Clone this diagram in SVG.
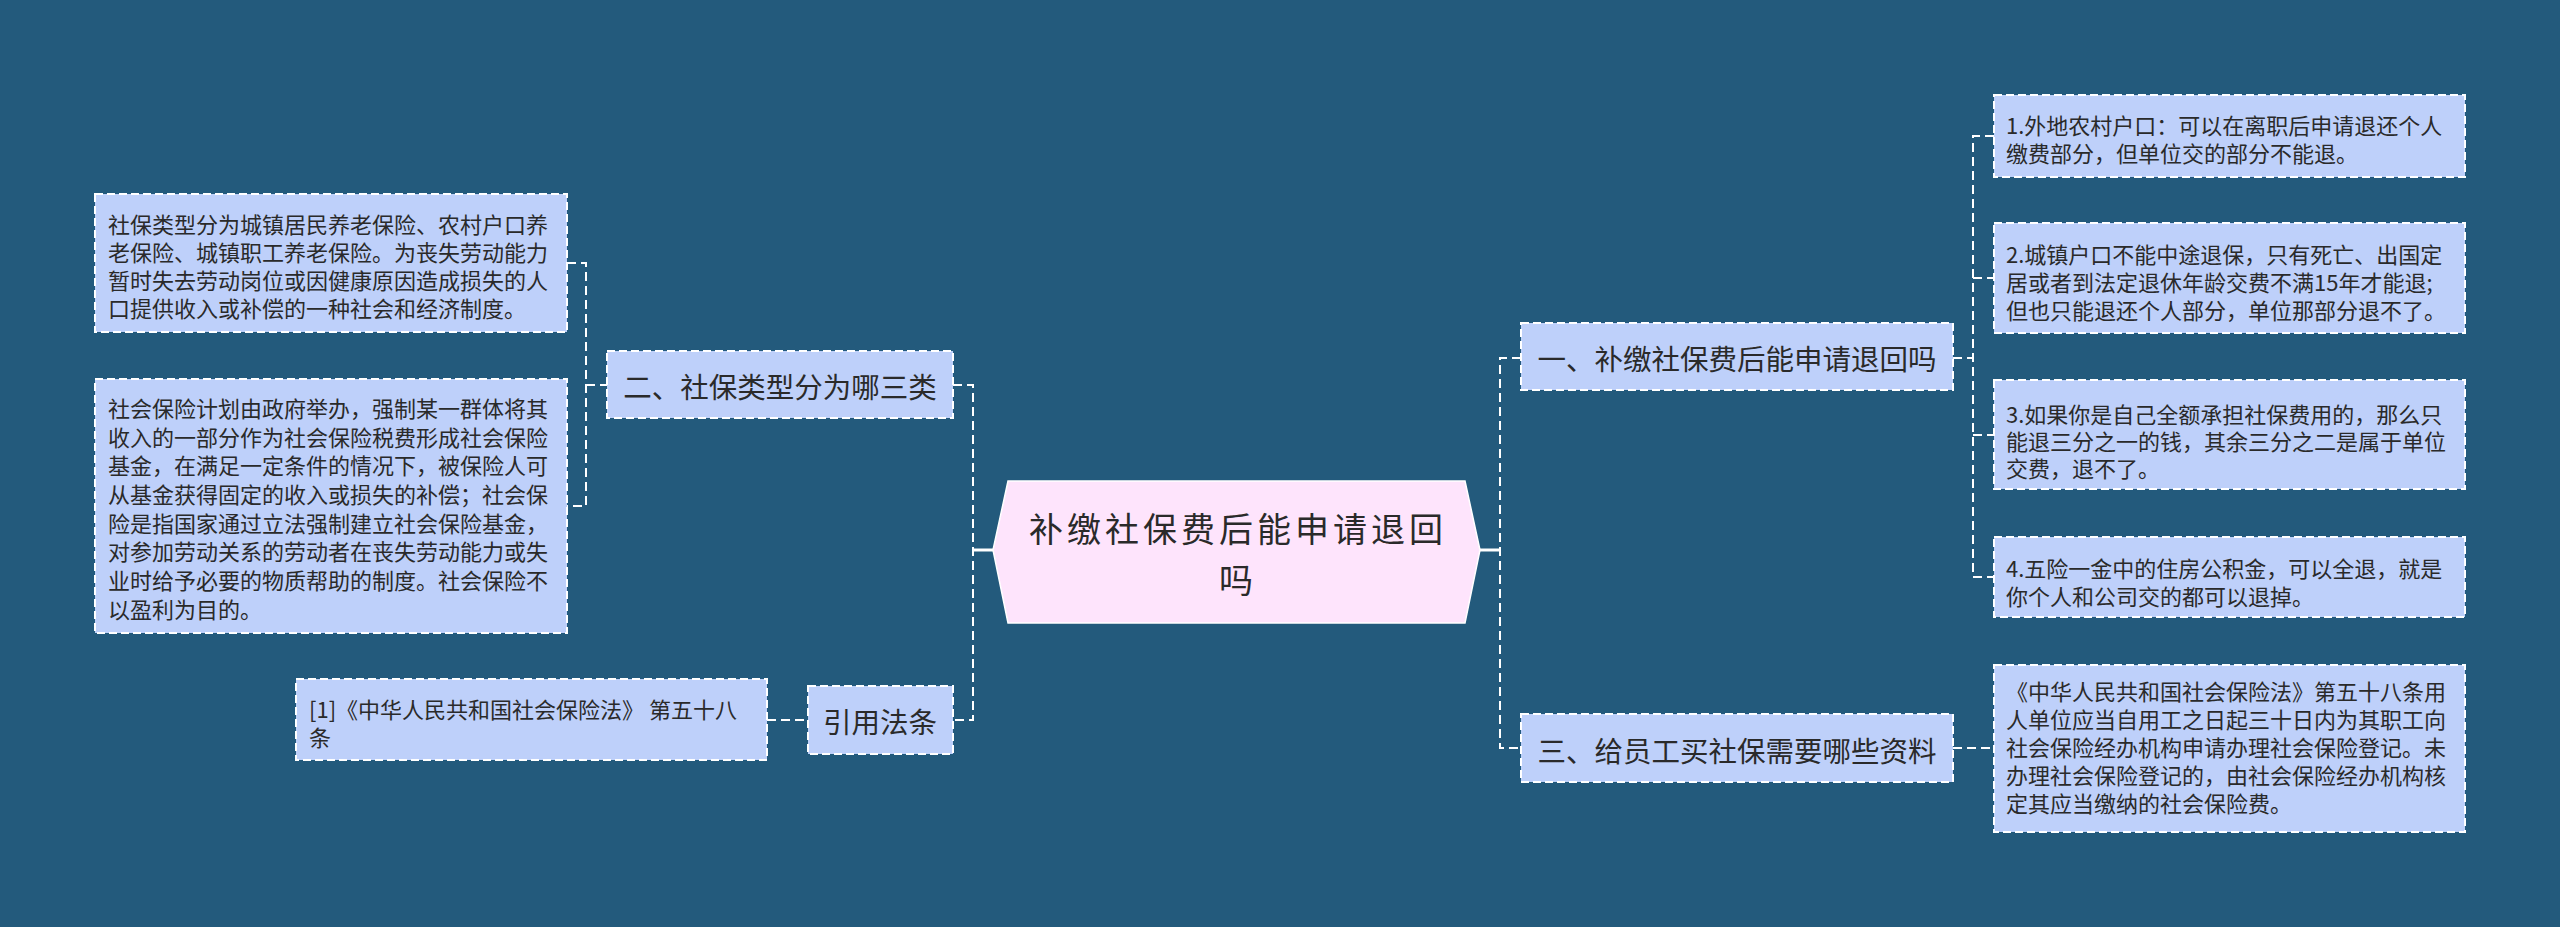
<svg xmlns="http://www.w3.org/2000/svg" width="2560" height="927" viewBox="0 0 2560 927">
<style>
.bg{fill:#235a7c}
.box{fill:#bed0fa;stroke:#ffffff;stroke-width:2;stroke-dasharray:8 4}
.root{fill:#fee4fc;stroke:#ffffff;stroke-width:1.5}
.t{font-family:"Noto Sans CJK SC","Noto Sans",sans-serif;fill:#2a2a2a;dominant-baseline:central}
.s{font-size:22px}
.m{font-size:28.5px;text-anchor:middle}
.r{font-size:34px;letter-spacing:4px;text-anchor:middle}
.dash{fill:none;stroke:#ffffff;stroke-width:2;stroke-dasharray:9 5}
.solid{fill:none;stroke:#ffffff;stroke-width:3}
</style>
<rect class="bg" x="0" y="0" width="2560" height="927"/>
<g id="connectors">
<path class="solid" d="M973,550 H993"/>
<path class="dash" d="M953,385 H973 V720 H953"/>
<path class="dash" d="M567,263 H586 V506 H567"/>
<path class="dash" d="M586,385 H607"/>
<path class="dash" d="M767,720 H808"/>
<path class="solid" d="M1480,550 H1500"/>
<path class="dash" d="M1521,358 H1500 V748 H1521"/>
<path class="dash" d="M1953,358 H1973"/>
<path class="dash" d="M1994,136 H1973 V577 H1994"/>
<path class="dash" d="M1973,278 H1994"/>
<path class="dash" d="M1973,435 H1994"/>
<path class="dash" d="M1953,748 H1994"/>
</g>
<g id="root">
<polygon class="root" points="1008,481 1465,481 1480,550 1465,623 1008,623 993,550"/>
<text class="t r" x="1238" y="527">补缴社保费后能申请退回</text>
<text class="t r" x="1238" y="578">吗</text>
</g>
<g id="n2">
<rect class="box" x="607" y="351" width="346" height="67"/>
<text class="t m" x="780" y="385">二、社保类型分为哪三类</text>
</g>
<g id="n2a">
<rect class="box" x="95" y="194" width="472" height="138"/>
<text class="t s" x="108" y="223">社保类型分为城镇居民养老保险、农村户口养</text>
<text class="t s" x="108" y="251">老保险、城镇职工养老保险。为丧失劳动能力</text>
<text class="t s" x="108" y="279">暂时失去劳动岗位或因健康原因造成损失的人</text>
<text class="t s" x="108" y="307">口提供收入或补偿的一种社会和经济制度。</text>
</g>
<g id="n2b">
<rect class="box" x="95" y="379" width="472" height="254"/>
<text class="t s" x="108" y="407">社会保险计划由政府举办，强制某一群体将其</text>
<text class="t s" x="108" y="436">收入的一部分作为社会保险税费形成社会保险</text>
<text class="t s" x="108" y="464">基金，在满足一定条件的情况下，被保险人可</text>
<text class="t s" x="108" y="493">从基金获得固定的收入或损失的补偿；社会保</text>
<text class="t s" x="108" y="522">险是指国家通过立法强制建立社会保险基金，</text>
<text class="t s" x="108" y="550">对参加劳动关系的劳动者在丧失劳动能力或失</text>
<text class="t s" x="108" y="579">业时给予必要的物质帮助的制度。社会保险不</text>
<text class="t s" x="108" y="608">以盈利为目的。</text>
</g>
<g id="n4">
<rect class="box" x="808" y="686" width="145" height="68"/>
<text class="t m" x="880" y="720">引用法条</text>
</g>
<g id="n4a">
<rect class="box" x="296" y="679" width="471" height="81"/>
<text class="t s" x="309" y="708">[1]《中华人民共和国社会保险法》 第五十八</text>
<text class="t s" x="309" y="736">条</text>
</g>
<g id="n1">
<rect class="box" x="1521" y="323" width="432" height="67"/>
<text class="t m" x="1737" y="357">一、补缴社保费后能申请退回吗</text>
</g>
<g id="n1a">
<rect class="box" x="1994" y="95" width="471" height="82"/>
<text class="t s" x="2006" y="124">1.外地农村户口：可以在离职后申请退还个人</text>
<text class="t s" x="2006" y="152">缴费部分，但单位交的部分不能退。</text>
</g>
<g id="n1b">
<rect class="box" x="1994" y="223" width="471" height="110"/>
<text class="t s" x="2006" y="253">2.城镇户口不能中途退保，只有死亡、出国定</text>
<text class="t s" x="2006" y="281">居或者到法定退休年龄交费不满15年才能退;</text>
<text class="t s" x="2006" y="309">但也只能退还个人部分，单位那部分退不了。</text>
</g>
<g id="n1c">
<rect class="box" x="1994" y="380" width="471" height="109"/>
<text class="t s" x="2006" y="413">3.如果你是自己全额承担社保费用的，那么只</text>
<text class="t s" x="2006" y="440">能退三分之一的钱，其余三分之二是属于单位</text>
<text class="t s" x="2006" y="467">交费，退不了。</text>
</g>
<g id="n1d">
<rect class="box" x="1994" y="537" width="471" height="80"/>
<text class="t s" x="2006" y="567">4.五险一金中的住房公积金，可以全退，就是</text>
<text class="t s" x="2006" y="595">你个人和公司交的都可以退掉。</text>
</g>
<g id="n3">
<rect class="box" x="1521" y="714" width="432" height="68"/>
<text class="t m" x="1737" y="749">三、给员工买社保需要哪些资料</text>
</g>
<g id="n3a">
<rect class="box" x="1994" y="665" width="471" height="167"/>
<text class="t s" x="2006" y="690">《中华人民共和国社会保险法》第五十八条用</text>
<text class="t s" x="2006" y="718">人单位应当自用工之日起三十日内为其职工向</text>
<text class="t s" x="2006" y="746">社会保险经办机构申请办理社会保险登记。未</text>
<text class="t s" x="2006" y="774">办理社会保险登记的，由社会保险经办机构核</text>
<text class="t s" x="2006" y="802">定其应当缴纳的社会保险费。</text>
</g>
</svg>
